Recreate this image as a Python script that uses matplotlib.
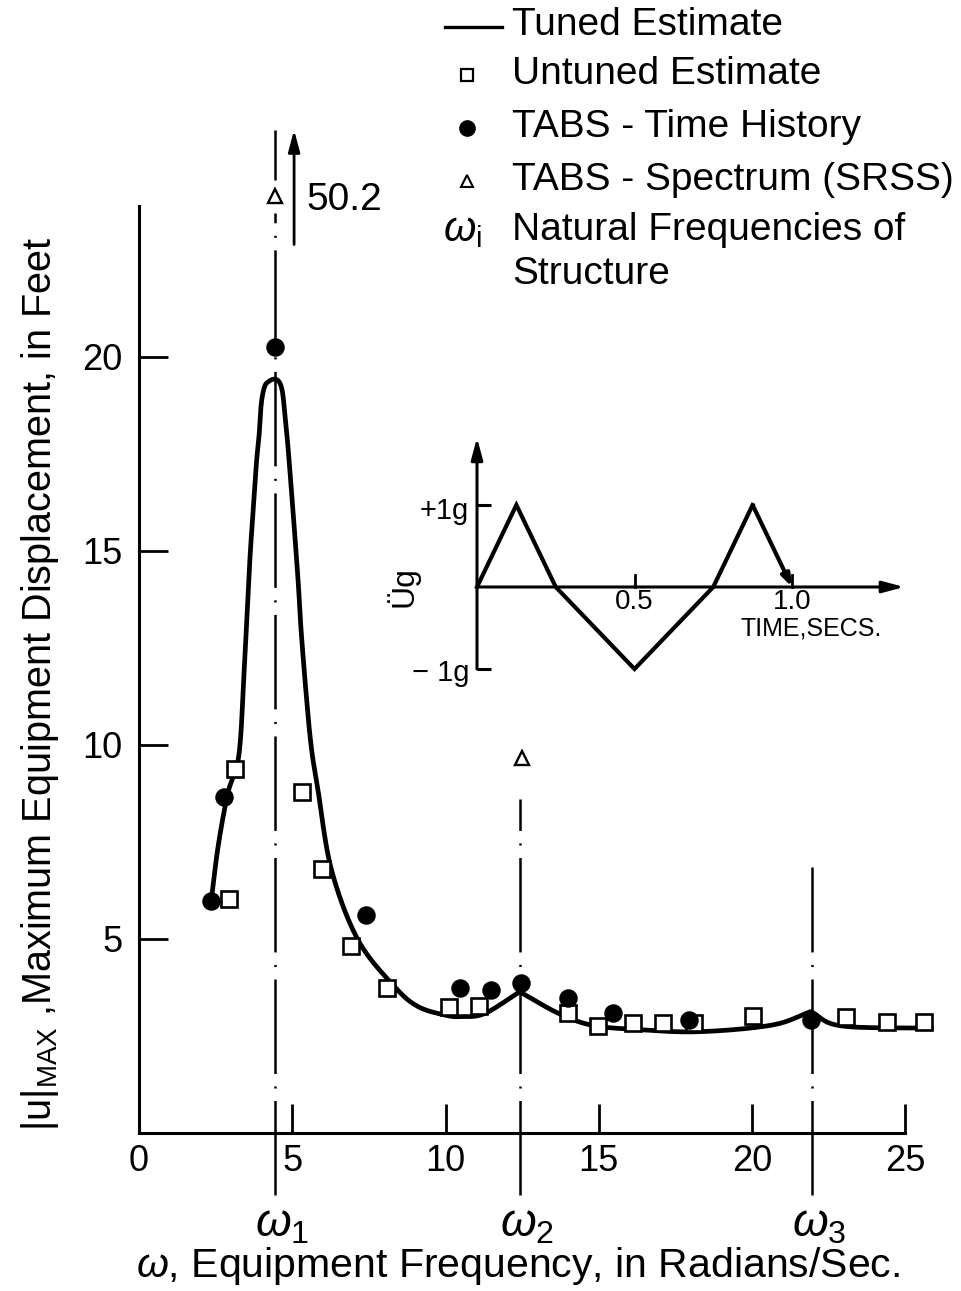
import matplotlib
matplotlib.use('Agg')
import matplotlib.pyplot as plt
import numpy as np

plt.rcParams['font.family'] = ['Liberation Sans', 'DejaVu Sans']
plt.rcParams['mathtext.fontset'] = 'custom'
plt.rcParams['mathtext.rm'] = 'Liberation Sans'
plt.rcParams['mathtext.it'] = 'Liberation Sans:italic'
plt.rcParams['mathtext.bf'] = 'Liberation Sans:bold'

# ---------------- data ----------------
tuned_x = [2.36, 2.58, 2.90, 3.26, 3.43, 3.61, 3.72, 3.83, 3.92, 3.99, 4.10, 4.25, 4.43,
           4.58, 4.68, 4.75, 4.86, 5.03, 5.19, 5.28, 5.45, 5.62, 5.84, 6.28, 7.15, 8.34, 9.10,
           9.98, 10.5, 11.28, 12.42, 13.67, 14.76, 16.18, 18.24, 20.64, 21.92, 22.92, 25.86]
tuned_y = [6.0, 7.38, 8.76, 9.75, 11.9, 14.68, 15.97, 17.26, 18.0, 18.8, 19.24, 19.38, 19.43,
           19.35, 19.1, 18.6, 17.69, 15.97, 14.25, 13.05, 11.35, 9.95, 8.84, 6.78, 4.97, 3.77, 3.26,
           3.04, 3.0, 3.08, 3.64, 3.09, 2.78, 2.67, 2.61, 2.78, 3.13, 2.76, 2.70]
tuned_cusps = [12.42, 21.92]

untuned_x = [2.94, 3.14, 5.33, 5.97, 6.91, 8.10, 10.10, 11.10, 14.0, 14.98, 16.12, 17.08,
             18.11, 20.04, 23.08, 24.39, 25.62]
untuned_y = [6.04, 9.38, 8.80, 6.81, 4.82, 3.75, 3.24, 3.28, 3.10, 2.76, 2.84, 2.84,
             2.83, 3.02, 3.00, 2.87, 2.87]

th_x = [2.36, 2.77, 4.43, 7.42, 10.47, 11.50, 12.45, 14.0, 15.47, 17.94, 21.92]
th_y = [5.99, 8.65, 20.25, 5.62, 3.75, 3.69, 3.86, 3.49, 3.08, 2.91, 2.91]

spec_x = [4.43, 12.48]
spec_y = [50.2, 9.66]

nat_freq = [4.44, 12.43, 21.95]
nat_labels = [r'$\omega_1$', r'$\omega_2$', r'$\omega_3$']
nat_line_top = [25.85, 8.6, 6.85]

xticks = [0, 5, 10, 15, 20, 25]
yticks = [5, 10, 15, 20]

# inset: ground acceleration pulse
pulse_t = [0, 0.125, 0.25, 0.5, 0.75, 0.875, 1.0]
pulse_a = [0, 1, 0, -1, 0, 1, 0]


def catmull_rom(xs, ys, n=12):
    """Smooth rendering path through the given points (passes through every point)."""
    P = np.column_stack([xs, ys]).astype(float)
    if len(P) < 3:
        return P[:, 0], P[:, 1]
    ext = np.vstack([2 * P[0] - P[1], P, 2 * P[-1] - P[-2]])
    out = []
    for i in range(1, len(ext) - 2):
        p0, p1, p2, p3 = ext[i - 1], ext[i], ext[i + 1], ext[i + 2]
        t = np.linspace(0, 1, n, endpoint=False)[:, None]
        seg = 0.5 * ((2 * p1) + (-p0 + p2) * t + (2 * p0 - 5 * p1 + 4 * p2 - p3) * t ** 2
                     + (-p0 + 3 * p1 - 3 * p2 + p3) * t ** 3)
        out.append(seg)
    out.append(P[-1:])
    out = np.vstack(out)
    return out[:, 0], out[:, 1]


# ---------------- figure ----------------
W, H = 961, 1291
fig = plt.figure(figsize=(W / 100, H / 100), dpi=100)


def box(l, t, r, b):
    return [l / W, 1 - b / H, (r - l) / W, (b - t) / H]


X0, Y0 = 139, 1133
XPX, YPX = 30.65, 38.8
XMAX, YMAX = 26, 26
YCLIP = 24.15  # off-scale display level

ax = fig.add_axes(box(X0, Y0 - YMAX * YPX, X0 + XMAX * XPX, Y0))
ax.set_xlim(0, XMAX)
ax.set_ylim(0, YMAX)
for s in ['top', 'right']:
    ax.spines[s].set_visible(False)
ax.spines['left'].set_bounds(0, 23.9)
ax.spines['bottom'].set_bounds(0, 25)
for s in ['left', 'bottom']:
    ax.spines[s].set_linewidth(2.2)
ax.set_xticks(xticks)
ax.set_yticks(yticks)
ax.tick_params(direction='in', length=21, width=2.0, labelsize=26)
ax.tick_params(axis='x', pad=8)
ax.tick_params(axis='y', pad=12)

lw = 1.8
dash = (0, (68 / lw, 9 / lw, 1.5 / lw, 9 / lw))
for i, (xf, top) in enumerate(zip(nat_freq, nat_line_top)):
    if i == 0:
        ax.plot([xf, xf], [-1.6, YCLIP - 0.45], color='black', lw=lw, ls=dash, clip_on=False, zorder=1)
        ax.plot([xf, xf], [YCLIP + 0.42, top], color='black', lw=lw, ls=(0, (60 / lw, 9 / lw)),
                clip_on=False, zorder=1)
    else:
        ax.plot([xf, xf], [-1.6, top], color='black', lw=lw, ls=dash, clip_on=False, zorder=1)
    fig.text((X0 + xf * XPX + 7) / W, 1 - 1224 / H, nat_labels[i], fontsize=33,
             ha='center', va='center')

# tuned curve, smoothed between cusp points
tx_arr, ty_arr = np.array(tuned_x), np.array(tuned_y)
cuts = [0] + [int(np.argmin(np.abs(tx_arr - c))) for c in tuned_cusps] + [len(tx_arr) - 1]
sx, sy = [], []
for a, b in zip(cuts[:-1], cuts[1:]):
    px, py = catmull_rom(tx_arr[a:b + 1], ty_arr[a:b + 1])
    sx.extend(px)
    sy.extend(py)
ax.plot(sx, sy, color='black', lw=3.4, solid_joinstyle='round',
        solid_capstyle='round', clip_on=False, zorder=3)

ax.plot(untuned_x, untuned_y, ls='none', marker='s', ms=11.2, mfc='white', mec='black',
        mew=1.9, clip_on=False, zorder=4)
ax.plot(th_x, th_y, ls='none', marker='o', ms=12.3, mfc='black', mec='black', clip_on=False, zorder=5)
spec_disp = [min(v, YCLIP) for v in spec_y]
ax.plot(spec_x, spec_disp, ls='none', marker='^', ms=10, mfc='white', mec='black', mew=1.7,
        clip_on=False, zorder=5)

# off-scale arrow for the 50.2 value
ax.annotate('', xy=(5.06, 25.85), xytext=(5.06, 22.9),
            arrowprops=dict(arrowstyle='-|>,head_length=1.3,head_width=0.35', lw=2, color='black',
                            shrinkA=0, shrinkB=0), annotation_clip=False)
ax.text(5.45, 24.05, f'{spec_y[0]:.1f}', fontsize=28, ha='left', va='center')

# axis labels
fig.text(40 / W, 1 - 684 / H, r'$\mathrm{|u|_{MAX}}$ ,Maximum Equipment Displacement, in Feet',
         rotation=90, fontsize=28.5, ha='center', va='center')
fig.text(518 / W, 1 - 1266 / H, r'$\omega$, Equipment Frequency, in Radians/Sec.',
         fontsize=29.5, ha='center', va='center')

# ---------------- inset ----------------
IX0, IY0, IXP, IYP = 477, 587, 315, 82
ixl, ixr, iyb, iyt = -0.05, 1.4, -1.2, 1.9
ia = fig.add_axes(box(IX0 + ixl * IXP, IY0 - iyt * IYP, IX0 + ixr * IXP, IY0 - iyb * IYP))
ia.set_xlim(ixl, ixr)
ia.set_ylim(iyb, iyt)
ia.axis('off')
ia.patch.set_alpha(0)
ak = dict(arrowstyle='-|>,head_length=1.3,head_width=0.35', lw=2.2, color='black', shrinkA=0, shrinkB=0)
ia.annotate('', xy=(0, 1.82), xytext=(0, -1.0), arrowprops=ak, annotation_clip=False)
ia.annotate('', xy=(1.356, 0), xytext=(0, 0), arrowprops=ak, annotation_clip=False)
for yv in (1, -1):
    ia.plot([0, 0.045], [yv, yv], color='black', lw=2.2, solid_capstyle='butt')
for tv in (0.5, 1.0):
    ia.plot([tv, tv], [0, 0.15], color='black', lw=2.0)
ia.plot(pulse_t[:-1], pulse_a[:-1], color='black', lw=3.0, solid_joinstyle='miter')
ia.annotate('', xy=(pulse_t[-1], pulse_a[-1]), xytext=(pulse_t[-2], pulse_a[-2]),
            arrowprops=dict(arrowstyle='-|>,head_length=0.7,head_width=0.25', lw=3.0,
                            color='black', shrinkA=0, shrinkB=0))
ia.text(0.5, -0.03, '0.5', fontsize=20, ha='center', va='top')
ia.text(1.0, -0.03, '1.0', fontsize=20, ha='center', va='top')
ia.text(1.06, -0.36, 'TIME,SECS.', fontsize=18, ha='center', va='top')
ia.text(-0.025, 0.93, '+1g', fontsize=21, ha='right', va='center')
ia.text(-0.025, -1.05, '\u2212 1g', fontsize=21, ha='right', va='center')
ia.text(-0.235, 0.0, '\u00dcg', fontsize=23, rotation=90, ha='center', va='center')

# ---------------- legend ----------------
lg = fig.add_axes([0, 0, 1, 1])
lg.set_xlim(0, W)
lg.set_ylim(H, 0)
lg.axis('off')
lg.patch.set_alpha(0)
tx = 512
rows = [25, 74, 127, 180, 230, 274]
texts = ['Tuned Estimate', 'Untuned Estimate', 'TABS - Time History',
         'TABS - Spectrum (SRSS)', 'Natural Frequencies of', 'Structure']
for r, t in zip(rows, texts):
    lg.text(tx, r, t, fontsize=28, ha='left', va='center')
lg.plot([445, 502], [rows[0] + 2, rows[0] + 2], color='black', lw=2.4)
lg.plot([467], [rows[1] + 1], marker='s', ms=8, mfc='white', mec='black', mew=1.6)
lg.plot([467], [rows[2] + 1], marker='o', ms=11, mfc='black', mec='black')
lg.plot([467], [rows[3] + 1], marker='^', ms=8, mfc='white', mec='black', mew=1.5)
lg.text(462, rows[4], r'$\omega_{\mathrm{i}}$', fontsize=30, ha='center', va='center')

fig.savefig('out.png', dpi=100)
